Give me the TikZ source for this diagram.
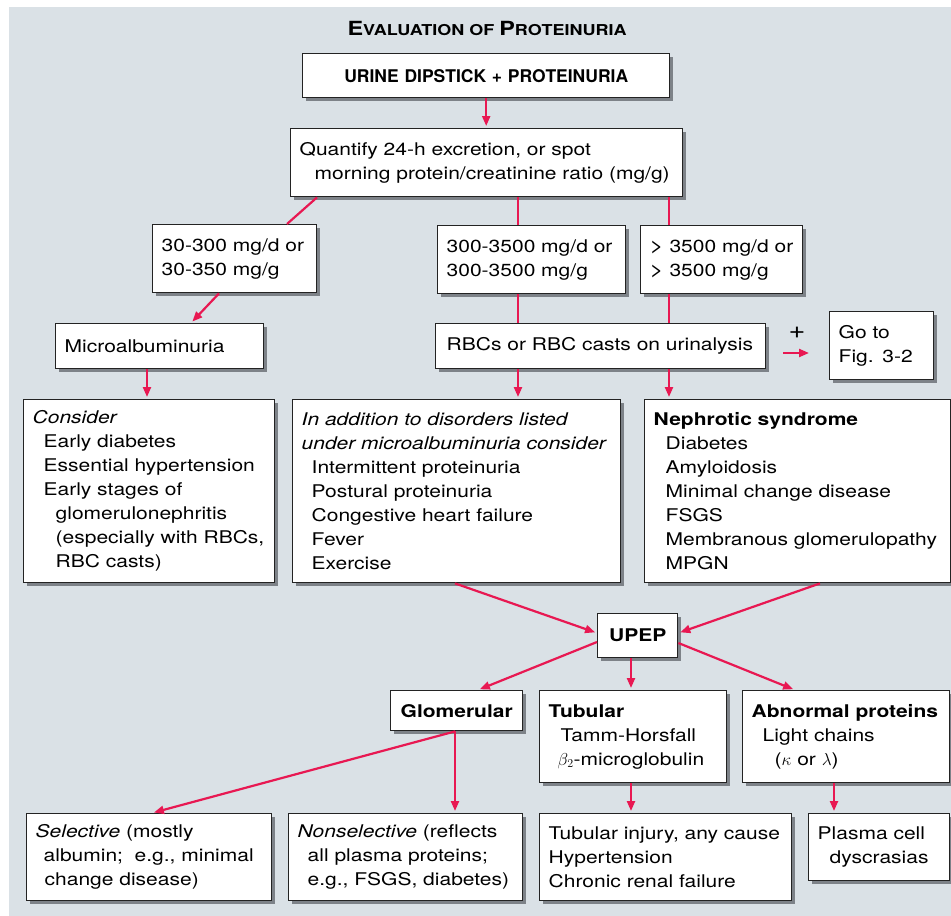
\documentclass[tikz,border=0pt]{standalone}
\usepackage{fontspec}
\setmainfont{TeX Gyre Heros}[FakeStretch=1.2]
\newfontfamily\narrowfont{TeX Gyre Heros}
\usetikzlibrary{arrows.meta,shadows}

\definecolor{panel}{RGB}{218,225,230}
\definecolor{arrowred}{RGB}{232,24,82}
\definecolor{boxline}{RGB}{35,35,35}
\definecolor{shade}{RGB}{125,130,136}

\newcommand{\gtsign}{{\fontsize{20}{24}\selectfont >}}

\tikzset{
  box/.style={draw=boxline, fill=white, line width=1.4pt, anchor=north west,
    align=left, inner xsep=9pt, inner ysep=2pt, text=black,
    font=\fontsize{17.5}{24}\selectfont,
    general shadow={fill=shade, shadow xshift=2.8pt, shadow yshift=-2.8pt}},
  cbox/.style={box, align=center},
  link/.style={draw=arrowred, line width=2.2pt},
  arr/.style={link, -{Triangle[length=10pt,width=8pt]}, shorten >=2pt},
}

\begin{document}
\begin{tikzpicture}[x=1pt, y=-1pt]
  \useasboundingbox (0,0) rectangle (951,916);
  \fill[panel] (9,7) rectangle (951,916);

  % title
  \node[anchor=base, text=black, font=\bfseries\fontsize{15}{18}\selectfont] (title) at (487,35)
    {{\fontsize{19.5}{18}\selectfont E}VALUATION OF {\fontsize{19.5}{18}\selectfont P}ROTEINURIA};

  % first rows
  \node[cbox, text width=349pt, minimum height=44pt] (dip) at (302,53)
    {\narrowfont\bfseries URINE DIPSTICK + PROTEINURIA};
  \node[box, text width=374pt, minimum height=68pt] (quant) at (290,128)
    {Quantify 24-h excretion, or spot\\ \hspace*{15pt}morning protein/creatinine ratio (mg/g)};

  \node[box, text width=146pt, minimum height=68pt] (lo) at (152,224)
    {30-300 mg/d or\\30-350 mg/g};
  \node[box, text width=170pt, minimum height=68pt] (mid) at (437,225)
    {300-3500 mg/d or\\300-3500 mg/g};
  \node[box, text width=144pt, minimum height=68pt] (hi) at (640,225)
    {\gtsign{} 3500 mg/d or\\\gtsign{} 3500 mg/g};

  \node[box, text width=190pt, minimum height=45pt] (micro) at (55,323)
    {Microalbuminuria};
  \node[box, text width=312pt, minimum height=45pt] (rbc) at (435,323)
    {\hspace*{2pt}RBCs or RBC casts on urinalysis};
  \node[box, text width=86pt, minimum height=68pt] (goto) at (829,311)
    {Go to\\Fig. 3-2};
  \node[text=black, font=\fontsize{24}{24}\selectfont] (plus) at (797,333) {+};
  \coordinate (pa) at (783,353);
  \coordinate (pb) at (811,353);

  % disorder lists
  \node[box, text width=233pt, minimum height=183pt] (cons) at (23,399)
    {\textit{Consider}\\
     \hspace*{11pt}Early diabetes\\
     \hspace*{11pt}Essential hypertension\\
     \hspace*{11pt}Early stages of\\
     \hspace*{23pt}glomerulonephritis\\
     \hspace*{23pt}(especially with RBCs,\\
     \hspace*{23pt}RBC casts)};
  \node[box, text width=310pt, minimum height=183pt] (add) at (292,399)
    {\textit{In addition to disorders listed}\\
     \textit{under microalbuminuria consider}\\
     \hspace*{10pt}Intermittent proteinuria\\
     \hspace*{10pt}Postural proteinuria\\
     \hspace*{10pt}Congestive heart failure\\
     \hspace*{10pt}Fever\\
     \hspace*{10pt}Exercise};
  \node[box, text width=288pt, minimum height=183pt] (neph) at (644,399)
    {\textbf{Nephrotic syndrome}\\
     \hspace*{12pt}Diabetes\\
     \hspace*{12pt}Amyloidosis\\
     \hspace*{12pt}Minimal change disease\\
     \hspace*{12pt}FSGS\\
     \hspace*{12pt}Membranous glomerulopathy\\
     \hspace*{12pt}MPGN};

  % electrophoresis
  \node[cbox, minimum width=80pt, minimum height=44pt, inner xsep=4pt] (upep) at (597,613)
    {\textbf{UPEP}};
  \node[cbox, minimum width=132pt, minimum height=40pt, inner xsep=4pt] (glom) at (390,690)
    {\textbf{Glomerular}};
  \node[box, text width=169pt, minimum height=92pt] (tub) at (539,690)
    {\textbf{Tubular}\\
     \hspace*{12pt}Tamm-Horsfall\\
     \hspace*{9pt}$\beta_2$-microglobulin};
  \node[box, text width=189pt, minimum height=92pt] (abn) at (742,690)
    {\textbf{Abnormal proteins}\\
     \hspace*{11pt}Light chains\\
     \hspace*{23pt}($\kappa$ or $\lambda$)};

  % bottom row
  \node[box, text width=227pt, minimum height=87pt] (sel) at (26,813)
    {\textit{Selective} (mostly\\
     \hspace*{8pt}albumin;\ \ e.g., minimal\\
     \hspace*{9pt}change disease)};
  \node[box, text width=216pt, minimum height=87pt] (nonsel) at (288,813)
    {\textit{Nonselective} (reflects\\
     \hspace*{10pt}all plasma proteins;\\
     \hspace*{10pt}e.g., FSGS, diabetes)};
  \node[box, text width=234pt, minimum height=87pt] (tinj) at (539,813)
    {Tubular injury, any cause\\Hypertension\\Chronic renal failure};
  \node[box, text width=123pt, minimum height=67pt] (plasma) at (808,813)
    {Plasma cell\\\hspace*{12pt}dyscrasias};

  % connectors
  \draw[arr] (dip.south) -- (dip.south |- quant.north);
  \draw[link] (quant.south -| 317,0) -- (lo.north -| 287,0);
  \draw[link] (quant.south -| 518,0) -- (mid.north -| 518,0);
  \draw[link] (quant.south -| 669,0) -- (hi.north -| 669,0);
  \draw[arr] (lo.south -| 219,0) -- (micro.north -| 191,0);
  \draw[link] (mid.south -| 518,0) -- (rbc.north -| 518,0);
  \draw[link] (hi.south -| 669,0) -- (rbc.north -| 669,0);
  \draw[arr] (pa) -- (pb);
  \draw[arr] (micro.south -| 147,0) -- (cons.north -| 147,0);
  \draw[arr] (rbc.south -| 518,0) -- (add.north -| 518,0);
  \draw[arr] (rbc.south -| 669,0) -- (neph.north -| 669,0);
  \draw[arr] (add.south -| 455,0) -- (upep.west |- 0,633);
  \draw[arr] (neph.south -| 820,0) -- (upep.east |- 0,633);
  \draw[arr] (upep.west |- 0,642) -- (glom.north -| 478,0);
  \draw[arr] (upep.south -| 631,0) -- (tub.north -| 631,0);
  \draw[arr] (upep.east |- 0,643) -- (abn.north -| 795,0);
  \draw[arr] (glom.south -| 455,0) -- (sel.north -| 152,0);
  \draw[arr] (glom.south -| 455,0) -- (nonsel.north -| 455,0);
  \draw[arr] (tub.south -| 631,0) -- (tinj.north -| 631,0);
  \draw[arr] (abn.south -| 834,0) -- (plasma.north -| 834,0);
\end{tikzpicture}
\end{document}
